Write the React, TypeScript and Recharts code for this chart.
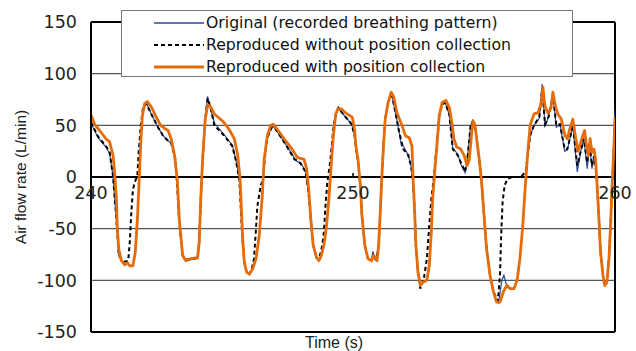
import React from 'react';
import { LineChart, Line, XAxis, YAxis, CartesianGrid, ReferenceLine } from 'recharts';

const W = 636;
const H = 351;

// tick labels
const xTicks = [240, 250, 260];
const yTicks = [-150, -100, -50, 0, 50, 100, 150];
const legendLabels = [
  'Original (recorded breathing pattern)',
  'Reproduced without position collection',
  'Reproduced with position collection',
];

// [time (s), air flow (L/min)]
const original: [number, number][] = [
  [240.00,52],[240.27,38],[240.57,29],[240.71,23],[240.84,1],[240.97,-41],[241.06,-76],[241.16,-81],[241.29,-85],[241.39,-83],[241.48,-86],[241.60,-86],[241.69,-73],[241.77,-41],[241.83,-8],[241.90,40],[241.98,64],[242.11,72],[242.30,61],[242.56,48],[242.75,40],[242.94,35],[243.06,33],[243.22,17],[243.30,-5],[243.37,-41],[243.44,-60],[243.50,-76],[243.62,-81],[243.82,-80],[244.07,-79],[244.13,-63],[244.19,-21],[244.26,17],[244.36,56],[244.45,78],[244.56,66],[244.71,52],[245.08,41],[245.39,31],[245.52,18],[245.68,-2],[245.74,-31],[245.79,-60],[245.85,-82],[245.94,-92],[246.04,-94],[246.17,-89],[246.30,-79],[246.42,-57],[246.53,-21],[246.61,15],[246.73,38],[246.90,49],[247.00,48],[247.37,34],[247.60,25],[247.77,18],[247.87,15],[248.00,14],[248.19,5],[248.30,-15],[248.39,-41],[248.48,-66],[248.61,-78],[248.70,-81],[248.79,-76],[248.89,-66],[248.99,-47],[249.08,-21],[249.15,5],[249.24,37],[249.34,60],[249.43,67],[249.65,60],[249.95,51],[250.06,40],[250.11,28],[250.19,15],[250.28,-8],[250.34,-37],[250.45,-66],[250.57,-79],[250.70,-81],[250.76,-72],[250.85,-81],[250.98,-66],[251.04,-34],[251.11,5],[251.17,33],[251.23,56],[251.34,72],[251.46,82],[251.60,65],[251.75,45],[251.85,30],[251.92,30],[252.11,21],[252.22,10],[252.29,-5],[252.35,-31],[252.40,-66],[252.48,-92],[252.57,-106],[252.66,-102],[252.82,-100],[252.91,-86],[252.99,-53],[253.04,-21],[253.12,5],[253.21,33],[253.29,59],[253.40,72],[253.52,72],[253.68,60],[253.81,28],[254.00,22],[254.12,12],[254.28,4],[254.38,21],[254.49,50],[254.57,54],[254.66,48],[254.72,37],[254.82,17],[254.91,-5],[255.00,-37],[255.10,-70],[255.23,-95],[255.36,-111],[255.48,-120],[255.58,-118],[255.68,-100],[255.76,-95],[255.84,-103],[255.99,-108],[256.15,-108],[256.27,-99],[256.37,-79],[256.48,-47],[256.56,-15],[256.65,17],[256.76,40],[256.91,50],[257.11,57],[257.22,90],[257.33,49],[257.46,58],[257.63,80],[257.76,48],[257.90,51],[258.08,25],[258.18,26],[258.33,43],[258.39,50],[258.56,5],[258.71,27],[258.81,37],[258.94,8],[259.03,33],[259.12,8],[259.20,20],[259.26,10],[259.31,-5],[259.38,-37],[259.45,-73],[259.54,-95],[259.61,-105],[259.69,-102],[259.77,-79],[259.83,-47],[259.89,-8],[259.96,35],[260.00,65],
];

const withoutPosition: [number, number][] = [
  [240.00,53],[240.27,39],[240.57,30],[240.71,24],[240.84,1],[240.97,-41],[241.06,-76],[241.16,-79],[241.29,-82],[241.42,-81],[241.48,-63],[241.54,-34],[241.60,-12],[241.67,-5],[241.77,1],[241.82,24],[241.90,50],[241.98,66],[242.11,71],[242.30,61],[242.56,48],[242.75,40],[242.94,35],[243.06,33],[243.22,17],[243.28,-5],[243.36,-41],[243.43,-60],[243.50,-76],[243.62,-80],[243.82,-79],[244.07,-78],[244.13,-63],[244.19,-21],[244.26,17],[244.36,56],[244.45,76],[244.56,68],[244.71,50],[245.08,40],[245.39,30],[245.52,17],[245.66,-2],[245.72,-31],[245.78,-60],[245.85,-82],[245.94,-92],[246.04,-94],[246.13,-90],[246.22,-79],[246.29,-53],[246.35,-28],[246.48,-8],[246.57,-2],[246.64,20],[246.73,38],[246.90,48],[247.00,48],[247.37,34],[247.77,17],[247.87,16],[248.00,13],[248.19,5],[248.30,-15],[248.39,-41],[248.48,-66],[248.61,-78],[248.70,-80],[248.83,-66],[248.89,-53],[248.95,-28],[249.01,-8],[249.14,17],[249.26,50],[249.38,64],[249.45,67],[249.65,60],[249.95,51],[250.06,40],[250.11,28],[250.19,15],[250.28,-8],[250.34,-37],[250.45,-66],[250.57,-79],[250.70,-81],[250.79,-77],[250.90,-80],[250.98,-66],[251.04,-34],[251.11,5],[251.17,33],[251.23,56],[251.34,72],[251.46,82],[251.60,65],[251.75,45],[251.92,27],[252.11,21],[252.22,10],[252.29,-5],[252.35,-31],[252.40,-66],[252.48,-92],[252.57,-108],[252.70,-99],[252.82,-79],[252.91,-47],[252.99,-21],[253.08,-2],[253.14,17],[253.21,33],[253.29,59],[253.40,70],[253.52,72],[253.68,60],[253.81,27],[254.00,21],[254.12,14],[254.28,5],[254.38,21],[254.49,50],[254.57,54],[254.66,48],[254.72,37],[254.82,17],[254.91,-5],[255.00,-37],[255.10,-70],[255.23,-95],[255.36,-111],[255.53,-120],[255.61,-95],[255.66,-53],[255.71,-24],[255.79,-8],[255.89,-2],[256.08,0],[256.40,0],[256.59,5],[256.65,17],[256.76,40],[256.91,50],[257.11,58],[257.22,85],[257.33,51],[257.46,58],[257.63,79],[257.76,50],[257.90,51],[258.08,27],[258.18,27],[258.33,43],[258.39,50],[258.56,11],[258.71,27],[258.81,37],[258.94,14],[259.03,33],[259.12,11],[259.20,20],[259.26,10],[259.31,-5],[259.38,-37],[259.45,-73],[259.54,-95],[259.61,-105],[259.69,-102],[259.77,-79],[259.83,-47],[259.89,-8],[259.96,30],[260.00,55],
];

const withPosition: [number, number][] = [
  [240.00,60],[240.14,51],[240.33,45],[240.57,37],[240.71,34],[240.84,21],[240.90,5],[240.97,-21],[241.00,-47],[241.06,-70],[241.16,-81],[241.29,-85],[241.39,-83],[241.48,-86],[241.60,-86],[241.69,-73],[241.77,-41],[241.83,-8],[241.90,34],[241.96,59],[242.05,71],[242.15,73],[242.30,68],[242.49,58],[242.66,50],[242.81,47],[242.94,45],[243.06,37],[243.19,21],[243.30,-5],[243.37,-41],[243.44,-60],[243.50,-76],[243.62,-81],[243.82,-79],[244.07,-78],[244.13,-63],[244.19,-21],[244.26,17],[244.36,56],[244.45,69],[244.54,69],[244.71,61],[245.03,54],[245.22,48],[245.34,43],[245.47,37],[245.60,21],[245.69,-2],[245.74,-31],[245.79,-60],[245.85,-82],[245.94,-92],[246.04,-94],[246.17,-89],[246.30,-79],[246.42,-57],[246.53,-21],[246.61,17],[246.73,40],[246.86,50],[246.96,51],[247.11,46],[247.37,37],[247.62,29],[247.87,19],[248.13,17],[248.23,8],[248.32,-15],[248.39,-41],[248.48,-66],[248.61,-78],[248.70,-81],[248.79,-76],[248.89,-66],[248.99,-47],[249.08,-21],[249.15,5],[249.24,37],[249.34,61],[249.43,66],[249.55,66],[249.72,62],[249.97,58],[250.06,46],[250.11,30],[250.19,17],[250.28,-8],[250.34,-37],[250.45,-66],[250.57,-79],[250.70,-81],[250.79,-76],[250.92,-81],[250.98,-66],[251.04,-34],[251.11,5],[251.17,33],[251.23,56],[251.34,72],[251.46,82],[251.55,78],[251.68,62],[251.87,50],[252.00,40],[252.15,38],[252.25,30],[252.29,1],[252.35,-31],[252.40,-66],[252.48,-92],[252.57,-105],[252.66,-102],[252.82,-100],[252.91,-86],[252.99,-53],[253.04,-21],[253.12,5],[253.21,33],[253.29,59],[253.40,72],[253.55,74],[253.68,67],[253.77,53],[253.85,37],[253.96,29],[254.11,27],[254.24,21],[254.36,11],[254.44,17],[254.53,43],[254.59,54],[254.66,50],[254.72,37],[254.82,17],[254.91,-5],[255.00,-37],[255.10,-70],[255.23,-95],[255.36,-111],[255.48,-121],[255.61,-121],[255.74,-111],[255.87,-105],[255.99,-108],[256.15,-108],[256.27,-99],[256.37,-79],[256.48,-47],[256.56,-15],[256.65,17],[256.76,50],[256.91,61],[257.06,62],[257.19,72],[257.25,87],[257.32,69],[257.44,62],[257.55,66],[257.63,82],[257.72,69],[257.82,61],[257.95,56],[258.08,41],[258.18,37],[258.27,46],[258.39,56],[258.48,41],[258.59,25],[258.71,35],[258.84,45],[258.90,33],[258.99,21],[259.05,37],[259.12,24],[259.20,27],[259.26,17],[259.31,-5],[259.38,-37],[259.45,-73],[259.54,-95],[259.61,-105],[259.69,-102],[259.77,-79],[259.83,-47],[259.89,-8],[259.96,30],[260.00,58],
];

const toRows = (pts: [number, number][]) => pts.map(([t, v]) => ({ t, v }));

const MARGIN = { top: 22, right: 21, bottom: 0, left: 0 };
const Y_AXIS_W = 91;
const X_AXIS_H = 19;
const Y_MIN = -150;
const Y_MAX = 150;
const PLOT_H = H - MARGIN.top - MARGIN.bottom - X_AXIS_H;
const ZERO_Y = MARGIN.top + (PLOT_H * (Y_MAX - 0)) / (Y_MAX - Y_MIN);

const BLUE = '#2B4A9C';
const ORANGE = '#E46C0A';
const FONT = '"DejaVu Sans", sans-serif';
const LABEL_FONT = '"Liberation Sans", Arial, sans-serif';

const XTick = (props: any) => {
  const { x, payload } = props;
  return (
    <g>
      <line x1={x} x2={x} y1={ZERO_Y - 4} y2={ZERO_Y} stroke="#000" strokeWidth={1.5} />
      <text x={x} y={ZERO_Y + 16} textAnchor="middle" dominantBaseline="central" fontSize={17.5} fill="#222" fontFamily={FONT}>
        {payload.value}
      </text>
    </g>
  );
};

const legendStyles = [
  { color: BLUE, width: 1.3, dash: undefined as string | undefined },
  { color: '#000', width: 2, dash: '4 3' },
  { color: ORANGE, width: 3, dash: undefined as string | undefined },
];

export default function App() {
  return (
    <div style={{ position: 'absolute', left: 0, top: 0, width: W, height: H, background: '#fff' }}>
      <LineChart width={W} height={H} margin={MARGIN} style={{ fontFamily: FONT }}>
        <CartesianGrid vertical={false} stroke="#555" strokeWidth={1.2} />
        <XAxis
          type="number"
          dataKey="t"
          domain={[240, 260]}
          ticks={xTicks}
          allowDataOverflow
          height={X_AXIS_H}
          axisLine={{ stroke: '#000', strokeWidth: 2 }}
          tickLine={false}
          tick={<XTick />}
          label={{ value: 'Time (s)', position: 'insideBottom', offset: 3, dx: -19, fontSize: 16, fill: '#222', fontFamily: LABEL_FONT }}
        />
        <YAxis
          type="number"
          domain={[Y_MIN, Y_MAX]}
          ticks={yTicks}
          width={Y_AXIS_W}
          allowDataOverflow
          axisLine={{ stroke: '#000', strokeWidth: 2 }}
          tickLine={false}
          tickSize={0}
          tickMargin={14}
          tick={{ fontSize: 17.5, fill: '#222', fontFamily: FONT }}
          label={{ value: 'Air flow rate (L/min)', angle: -90, position: 'insideLeft', offset: 20, fontSize: 15.5, fill: '#222', fontFamily: LABEL_FONT, style: { textAnchor: 'middle' } }}
        />
        <ReferenceLine y={0} stroke="#000" strokeWidth={2} />
        <ReferenceLine y={150} stroke="#000" strokeWidth={2} />
        <ReferenceLine x={260} stroke="#000" strokeWidth={2} />
        <Line data={toRows(original)} dataKey="v" type="linear" stroke={BLUE} strokeWidth={1.2} dot={false} isAnimationActive={false} />
        <Line data={toRows(withoutPosition)} dataKey="v" type="linear" stroke="#000" strokeWidth={2} strokeDasharray="4 3" dot={false} isAnimationActive={false} />
        <Line data={toRows(withPosition)} dataKey="v" type="linear" stroke={ORANGE} strokeWidth={2.8} strokeLinejoin="round" dot={false} isAnimationActive={false} />
      </LineChart>
      <div
        style={{
          position: 'absolute',
          left: 121,
          top: 10,
          width: 452,
          height: 67,
          boxSizing: 'border-box',
          border: '1px solid #777',
          background: '#fff',
          fontFamily: FONT,
          fontSize: 15.7,
          color: '#111',
        }}
      >
        {legendLabels.map((lab, i) => (
          <div key={lab} style={{ position: 'absolute', left: 0, top: 2 + i * 22, height: 20, display: 'flex', alignItems: 'center', whiteSpace: 'nowrap' }}>
            <svg width={83} height={20} style={{ display: 'block' }}>
              <line x1={32} x2={82} y1={10} y2={10} stroke={legendStyles[i].color} strokeWidth={legendStyles[i].width} strokeDasharray={legendStyles[i].dash} />
            </svg>
            <span style={{ marginLeft: 1, lineHeight: '20px' }}>{lab}</span>
          </div>
        ))}
      </div>
    </div>
  );
}
